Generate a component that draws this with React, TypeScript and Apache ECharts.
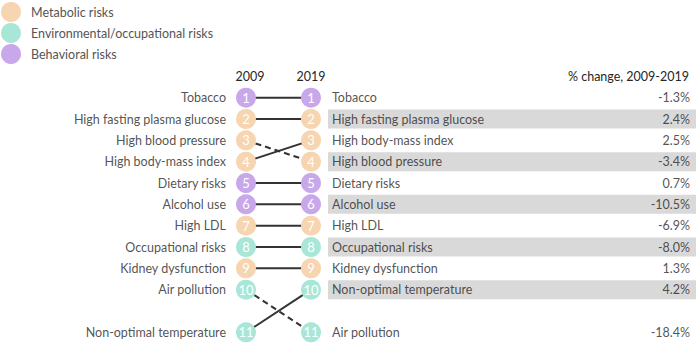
import React, { useEffect, useRef } from "react";
import * as echarts from "echarts";

const years = ["2009", "2019"];
const tableHeader = "% change, 2009-2019";
const groups = ["Metabolic risks", "Environmental/occupational risks", "Behavioral risks"];
const groupColors = ["#f6d5b0", "#a8e7d8", "#c8a8ea"];
const risks = [
  "Tobacco",
  "High fasting plasma glucose",
  "High blood pressure",
  "High body-mass index",
  "Dietary risks",
  "Alcohol use",
  "High LDL",
  "Occupational risks",
  "Kidney dysfunction",
  "Air pollution",
  "Non-optimal temperature",
];
const riskGroup = [2, 0, 0, 0, 2, 2, 0, 1, 0, 1, 1];
const rank2009 = [1, 2, 3, 4, 5, 6, 7, 8, 9, 10, 11];
const rank2019 = [1, 2, 4, 3, 5, 6, 7, 8, 9, 11, 10];
const pctChange = [-1.3, 2.4, -3.4, 2.5, 0.7, -10.5, -6.9, -8.0, 1.3, -18.4, 4.2];
// display row for each rank (rank 11 sits one row lower)
const rowOfRank = [0, 1, 2, 3, 4, 5, 6, 7, 8, 9, 10, 12];

const FONT = "Lato";
const FS = 12.5;
const TEXT = "#262626";

export default function App() {
  const ref = useRef<HTMLDivElement>(null);
  useEffect(() => {
    const chart = echarts.init(ref.current!, undefined, { renderer: "svg" });

    const circleSeries = groups.map((g, gi) => {
      const data: any[] = [];
      risks.forEach((r, i) => {
        if (riskGroup[i] !== gi) return;
        data.push({ value: [0, rowOfRank[rank2009[i]]], rank: rank2009[i] });
        data.push({ value: [1, rowOfRank[rank2019[i]]], rank: rank2019[i] });
      });
      return {
        type: "scatter",
        name: g,
        xAxisIndex: 0,
        yAxisIndex: 0,
        symbol: "circle",
        symbolSize: 20,
        z: 5,
        itemStyle: { color: groupColors[gi], opacity: 1 },
        label: {
          show: true,
          position: "inside",
          color: "#ffffff",
          fontFamily: FONT,
          fontSize: 13,
          formatter: (p: any) => String(p.data.rank),
        },
        data,
      };
    });

    const lineSeries = risks.map((r, i) => ({
      type: "line",
      xAxisIndex: 0,
      yAxisIndex: 0,
      symbol: "none",
      z: 2,
      silent: true,
      lineStyle: {
        color: "#333333",
        width: 2,
        type: rank2019[i] > rank2009[i] ? [6, 4] : "solid",
      },
      data: [
        [0, rowOfRank[rank2009[i]]],
        [1, rowOfRank[rank2019[i]]],
      ],
    }));

    const leftNames = {
      type: "scatter",
      xAxisIndex: 0,
      yAxisIndex: 0,
      symbolSize: 20,
      itemStyle: { color: "rgba(0,0,0,0)" },
      silent: true,
      label: {
        show: true,
        position: "left",
        distance: 10,
        color: TEXT,
        fontFamily: FONT,
        fontSize: FS,
        formatter: (p: any) => p.data.name,
      },
      data: risks.map((r, i) => ({ name: r, value: [0, rowOfRank[rank2009[i]]] })),
    };

    const rightNames = {
      type: "scatter",
      xAxisIndex: 1,
      yAxisIndex: 1,
      symbolSize: 0,
      silent: true,
      label: {
        show: true,
        position: "right",
        distance: 4,
        color: TEXT,
        fontFamily: FONT,
        fontSize: FS,
        formatter: (p: any) => p.data.name,
      },
      data: risks.map((r, i) => ({ name: r, value: [0, rowOfRank[rank2019[i]]] })),
    };

    const pctLabels = {
      type: "scatter",
      xAxisIndex: 1,
      yAxisIndex: 1,
      symbolSize: 0,
      silent: true,
      label: {
        show: true,
        position: "left",
        distance: 6,
        color: TEXT,
        fontFamily: FONT,
        fontSize: FS,
        formatter: (p: any) => p.data.name,
      },
      data: risks.map((r, i) => ({
        name: pctChange[i].toFixed(1) + "%",
        value: [1, rowOfRank[rank2019[i]]],
      })),
    };

    const shading = {
      type: "custom",
      xAxisIndex: 1,
      yAxisIndex: 1,
      silent: true,
      z: 0,
      renderItem: (params: any, api: any) => {
        const rank = api.value(1);
        const a = api.coord([0, rank]);
        const b = api.coord([1, rank]);
        const h = api.size([0, 1])[1] * 0.89;
        return {
          type: "rect",
          shape: { x: a[0], y: a[1] - h / 2, width: b[0] - a[0], height: h },
          style: { fill: "#d9d9d9" },
        };
      },
      data: rank2019
        .filter((r) => r % 2 === 0)
        .map((r) => [0, rowOfRank[r]]),
    };

    const yBase = {
      type: "value",
      min: 0.5,
      max: 12.5,
      inverse: true,
      show: false,
    };

    chart.setOption({
      animation: false,
      textStyle: { fontFamily: FONT },
      legend: {
        orient: "vertical",
        left: 1,
        top: 2,
        padding: 0,
        itemWidth: 20,
        itemHeight: 20,
        itemGap: 1,
        icon: "circle",
        selectedMode: false,
        data: groups,
        textStyle: {
          color: "#555555",
          fontFamily: FONT,
          fontSize: FS,
          padding: [0, 0, 0, 5],
        },
      },
      graphic: [
        {
          type: "text",
          x: 689,
          y: 76,
          style: {
            text: tableHeader,
            align: "right",
            verticalAlign: "middle",
            fill: TEXT,
            font: `${FS}px ${FONT}`,
          },
        },
      ],
      grid: [
        { left: 246, right: 389, top: 87, height: 256 },
        { left: 328, right: 4, top: 87, height: 256 },
      ],
      xAxis: [
        {
          gridIndex: 0,
          type: "value",
          min: 0,
          max: 1,
          interval: 1,
          position: "top",
          axisLine: { show: false },
          axisTick: { show: false },
          splitLine: { show: false },
          axisLabel: {
            show: true,
            margin: 4,
            color: TEXT,
            fontFamily: FONT,
            fontSize: FS,
            formatter: (v: number) =>
              v === 0 ? `{a|${years[0]}}` : v === 1 ? years[1] : "",
            rich: {
              a: {
                padding: [0, 0, 0, 8],
                color: TEXT,
                fontFamily: FONT,
                fontSize: FS,
              },
            },
          },
        },
        { gridIndex: 1, type: "value", min: 0, max: 1, show: false },
      ],
      yAxis: [
        { gridIndex: 0, ...yBase },
        { gridIndex: 1, ...yBase },
      ],
      series: [shading, ...lineSeries, ...circleSeries, leftNames, rightNames, pctLabels],
    });
    return () => chart.dispose();
  }, []);
  return (
    <div
      ref={ref}
      style={{ width: 700, height: 343, position: "absolute", left: 0, top: 0 }}
    />
  );
}
